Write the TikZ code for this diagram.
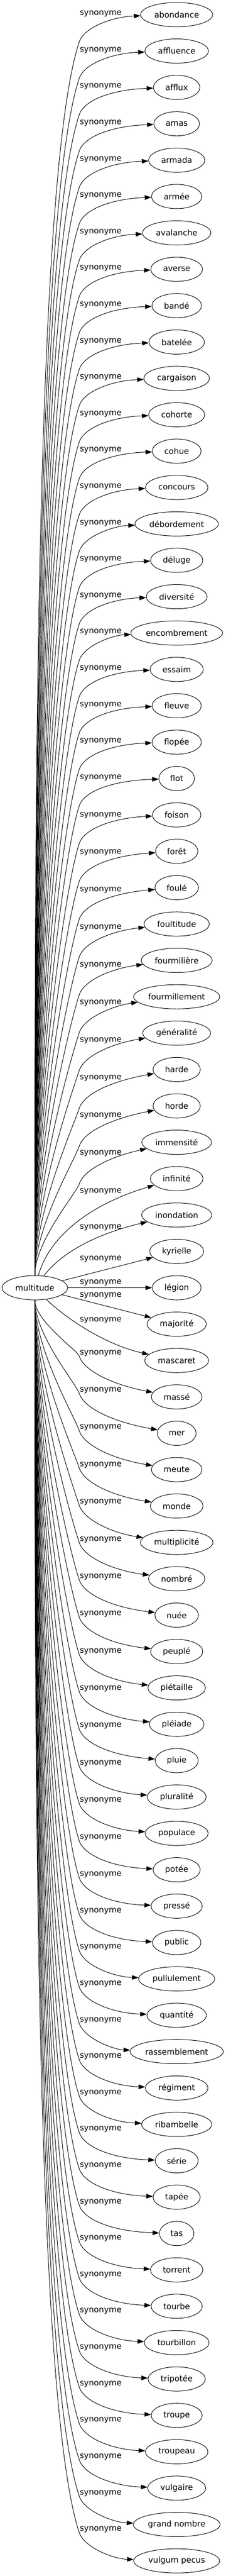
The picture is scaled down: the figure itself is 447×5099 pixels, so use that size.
\documentclass[tikz,border=0pt]{standalone}
\usepackage{fontspec}
\setmainfont{DejaVu Sans}
\usetikzlibrary{arrows.meta,shapes.geometric}

\begin{document}
\fontsize{16}{19}\selectfont
\begin{tikzpicture}[
  x=1pt, y=-1pt,
  root/.style = {ellipse, draw, line width=1pt, inner sep=0pt, minimum width=130, minimum height=48},
  leaf/.style = {ellipse, draw, line width=1pt, inner sep=0pt, minimum height=48},
  rel/.style = {inner sep=0pt},
  syn/.style = {-{Triangle[length=13pt, width=9pt]}, line width=1pt},
  every node/.style = {font=\fontsize{16}{19}\selectfont},
  ]
  \useasboundingbox (0,0) rectangle (447,5099);
  \node[root] (mult) at (69,2549) {multitude};
  \foreach \txt [count=\i] in {abondance, affluence, afflux, amas, armada, armée,
      avalanche, averse, bandé, batelée, cargaison, cohorte, cohue, concours,
      débordement, déluge, diversité, encombrement, essaim, fleuve, flopée, flot,
      foison, forêt, foulé, foultitude, fourmilière, fourmillement, généralité,
      harde, horde, immensité, infinité, inondation, kyrielle, légion, majorité,
      mascaret, massé, mer, meute, monde, multiplicité, nombré, nuée, peuplé,
      piétaille, pléiade, pluie, pluralité, populace, potée, pressé, public,
      pullulement, quantité, rassemblement, régiment, ribambelle, série, tapée,
      tas, torrent, tourbe, tourbillon, tripotée, troupe, troupeau, vulgaire,
      grand nombre, vulgum pecus} {
    \pgfmathsetmacro\ypos{29+72*(\i-1)}
    \pgfmathsetmacro\nodew{1.16*width("\txt")+40}
    \node[leaf, minimum width=\nodew] (s\i) at (350,\ypos) {\txt};
  }
  \foreach \i in {1,...,32} {
    \pgfmathsetmacro\ypos{29+72*(\i-1)}
    \pgfmathsetmacro\dist{2549-\ypos}
    \pgfmathsetmacro\bend{\ypos+54+max(0,(1000-\dist)/25)}
    \pgfmathsetmacro\len{2525-\bend}
    \pgfmathsetmacro\ctrla{2525-0.375*\len}
    \pgfmathsetmacro\ctrlbx{157-\len/28}
    \pgfmathsetmacro\ctrlby{\bend+0.107*\len}
    \pgfmathsetmacro\ctrlc{\bend-30}
    \pgfmathsetmacro\ctrld{\ypos+4+0.8*(\bend-\ypos-54)}
    \pgfmathsetmacro\labely{\ypos-1.5+0.033*max(0,1000-\dist)}
    \draw[syn] (mult.north) .. controls (69,\ctrla) and (\ctrlbx,\ctrlby) .. (157,\bend)
      .. controls (167,\ctrlc) and (225,\ctrld) .. (s\i);
    \node[rel] (l\i) at (199.5,\labely) {synonyme};
  }
  \foreach \i in {39,...,71} {
    \pgfmathsetmacro\ypos{29+72*(\i-1)}
    \pgfmathsetmacro\dist{\ypos-2549}
    \pgfmathsetmacro\bend{\ypos-56-max(0,(1200-\dist)/40)}
    \pgfmathsetmacro\len{\bend-2573}
    \pgfmathsetmacro\ctrla{2573+0.375*\len}
    \pgfmathsetmacro\ctrlbx{157-\len/28}
    \pgfmathsetmacro\ctrlby{\bend-0.107*\len}
    \pgfmathsetmacro\ctrlc{\bend+30}
    \pgfmathsetmacro\ctrld{\ypos-4-0.8*(\ypos-\bend-56)}
    \pgfmathsetmacro\labely{\bend-6}
    \draw[syn] (mult.south) .. controls (69,\ctrla) and (\ctrlbx,\ctrlby) .. (157,\bend)
      .. controls (167,\ctrlc) and (225,\ctrld) .. (s\i);
    \node[rel] (l\i) at (199.5,\labely) {synonyme};
  }
  \draw[syn] (mult) .. controls (100,2440) and (190,2380) .. (s33);
  \draw[syn] (mult) .. controls (125,2475) and (200,2440) .. (s34);
  \draw[syn] (mult) -- (s35);
  \draw[syn] (mult) -- (s36);
  \draw[syn] (mult) -- (s37);
  \draw[syn] (mult) .. controls (120,2600) and (200,2660) .. (s38);
  \node[rel] (l33) at (199.5,2359) {synonyme};
  \node[rel] (l34) at (199.5,2430) {synonyme};
  \node[rel] (l35) at (199.5,2492) {synonyme};
  \node[rel] (l36) at (199.5,2539) {synonyme};
  \node[rel] (l37) at (199.5,2565) {synonyme};
  \node[rel] (l38) at (199.5,2613) {synonyme};
\end{tikzpicture}
\end{document}
